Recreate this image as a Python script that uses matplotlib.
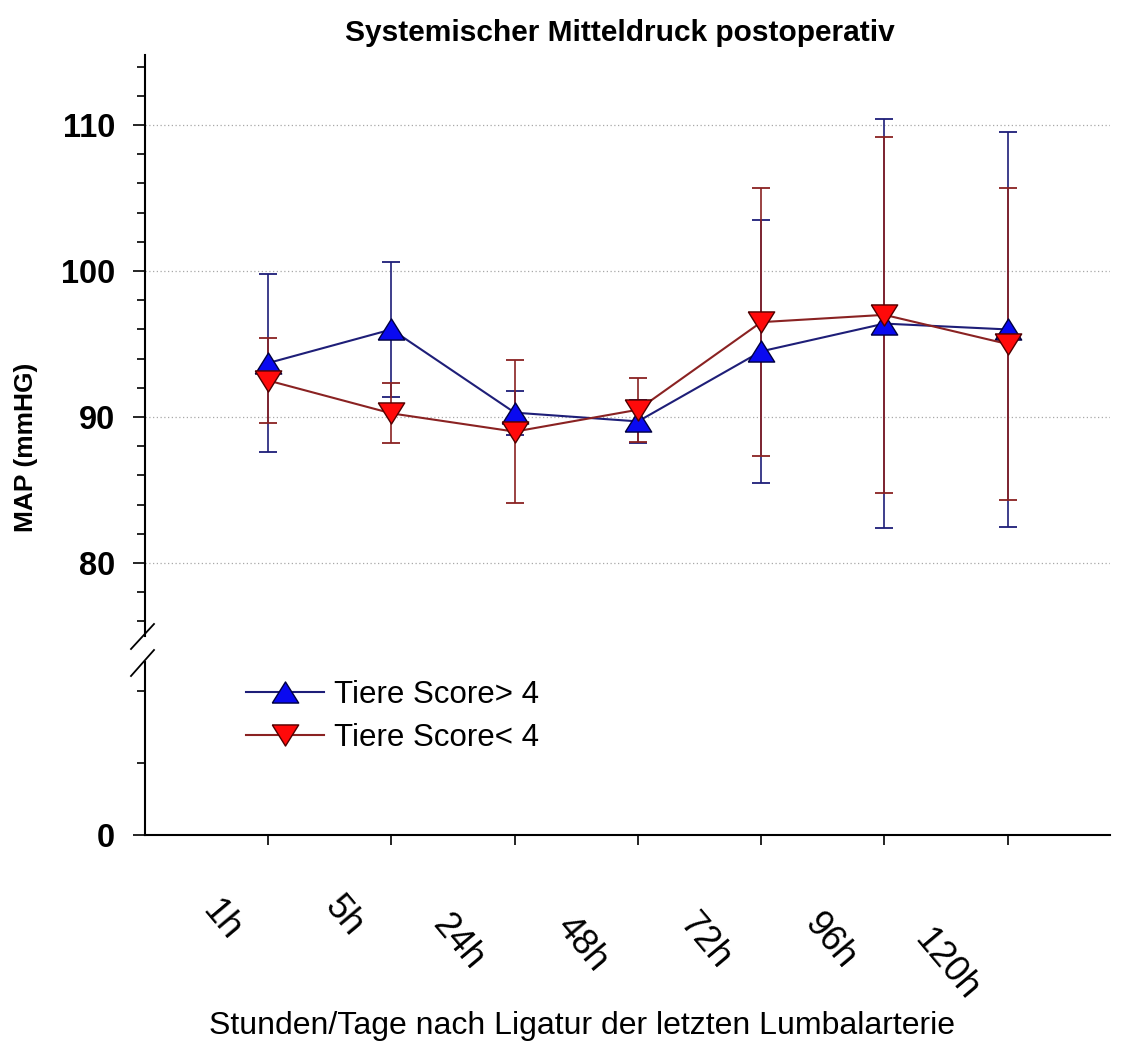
import numpy as np
import matplotlib
matplotlib.use('Agg')
import matplotlib.pyplot as plt
from matplotlib.lines import Line2D
from matplotlib.ticker import FixedLocator

# ---------------- data ----------------
categories = ['1h', '5h', '24h', '48h', '72h', '96h', '120h']
high_mean = [93.7, 96.0, 90.3, 89.7, 94.5, 96.4, 96.0]
high_sd = [6.1, 4.6, 1.5, 1.5, 9.0, 14.0, 13.5]
low_mean = [92.5, 90.25, 89.0, 90.5, 96.5, 97.0, 95.0]
low_sd = [2.9, 2.05, 4.9, 2.2, 9.2, 12.2, 10.7]
high_label = 'Tiere Score> 4'
low_label = 'Tiere Score< 4'
upper_major_ticks = [80, 90, 100, 110]
upper_minor_ticks = list(range(76, 115, 2))
lower_major_ticks = [0]
lower_minor_ticks = [10, 20]

# ---------------- style / layout ----------------
plt.rcParams['font.family'] = ['Liberation Sans', 'DejaVu Sans']
W, H = 1128, 1043
fig = plt.figure(figsize=(W / 100, H / 100), dpi=100)


def fx(px):
    return px / W


def fy(py):
    return 1 - py / H


L, R = 145, 1110
ax_top = fig.add_axes([fx(L), fy(636), (R - L) / W, (636 - 55) / H])
ax_bot = fig.add_axes([fx(L), fy(835), (R - L) / W, (835 - 662) / H])

x = np.arange(1, len(categories) + 1)

blue_line = '#1e1e78'
blue_fill = '#0a0af0'
blue_edge = '#000040'
red_line = '#8a2222'
red_fill = '#ff0a0a'
red_edge = '#500000'

tri_up = [(-1, -0.8), (1, -0.8), (0, 0.8), (-1, -0.8)]
tri_dn = [(-1, 0.8), (1, 0.8), (0, -0.8), (-1, 0.8)]

ax_top.errorbar(x, high_mean, yerr=high_sd, fmt='none', ecolor=blue_line,
                elinewidth=1.2, capsize=6.5, capthick=1.3, zorder=2)
ax_top.errorbar(x, low_mean, yerr=low_sd, fmt='none', ecolor=red_line,
                elinewidth=1.2, capsize=6.5, capthick=1.3, zorder=2)
h_line, = ax_top.plot(x, high_mean, color=blue_line, lw=1.5, marker=tri_up,
                      ms=19, mfc=blue_fill, mec=blue_edge, mew=1.0, zorder=3,
                      label=high_label)
l_line, = ax_top.plot(x, low_mean, color=red_line, lw=1.5, marker=tri_dn,
                      ms=19, mfc=red_fill, mec=red_edge, mew=1.0, zorder=4,
                      label=low_label)

for ax in (ax_top, ax_bot):
    ax.set_xlim(0, 7.83)
    ax.spines['top'].set_visible(False)
    ax.spines['right'].set_visible(False)
    ax.spines['left'].set_linewidth(1.5)
    ax.tick_params(axis='y', which='major', length=8.5, width=1.2,
                   labelsize=23, pad=13)
    ax.tick_params(axis='y', which='minor', length=5.5, width=1.2)
    ax.set_facecolor('none')

ax_top.spines['bottom'].set_visible(False)
ax_top.set_ylim(75, 114.8)
ax_top.yaxis.set_major_locator(FixedLocator(upper_major_ticks))
ax_top.yaxis.set_minor_locator(FixedLocator(upper_minor_ticks))
ax_top.set_yticklabels([str(v) for v in upper_major_ticks], fontweight='bold',
                       fontsize=23.5)
ax_top.tick_params(axis='x', which='both', bottom=False, labelbottom=False)
ax_top.yaxis.grid(True, which='major', linestyle=(0, (1, 2)), color='#a8a8a8',
                  lw=0.9)

ax_bot.set_ylim(0, 24)
ax_bot.yaxis.set_major_locator(FixedLocator(lower_major_ticks))
ax_bot.yaxis.set_minor_locator(FixedLocator(lower_minor_ticks))
ax_bot.set_yticklabels([str(v) for v in lower_major_ticks], fontweight='bold',
                       fontsize=23.5)
ax_bot.spines['bottom'].set_linewidth(1.5)
ax_bot.set_xticks(x)
ax_bot.tick_params(axis='x', which='major', length=7, width=1.2,
                   labelbottom=False)

# rotated category labels, placed below the axis
label_offsets = [(-47, -85), (-48, -81), (-57, -107), (-56, -109),
                 (-56, -106), (-55, -106), (-61, -130)]
for xi, lab, off in zip(x, categories, label_offsets):
    ax_bot.annotate(lab, xy=(xi, 0), xycoords=('data', 'axes fraction'),
                    xytext=off, textcoords='offset pixels', rotation=-50,
                    ha='center', va='center', fontsize=26)

# legend
ax_bot.legend(handles=[h_line, l_line], loc='upper left',
              bbox_to_anchor=(fx(246), fy(680)),
              bbox_transform=fig.transFigure, frameon=False, fontsize=22.5,
              handlelength=2.5, handletextpad=0.33, labelspacing=0.42,
              borderpad=0, borderaxespad=0, numpoints=1)

# axis break marks
for (x0, y0, x1, y1) in [(131, 649, 154, 624), (131, 676, 154, 650)]:
    fig.add_artist(Line2D([fx(x0), fx(x1)], [fy(y0), fy(y1)],
                          transform=fig.transFigure, color='black', lw=1.3))

# texts
fig.text(fx(620), fy(33), 'Systemischer Mitteldruck postoperativ',
         ha='center', va='center', fontsize=21.5, fontweight='bold')
fig.text(fx(582), fy(1026), 'Stunden/Tage nach Ligatur der letzten Lumbalarterie',
         ha='center', va='center', fontsize=23)
fig.text(fx(26), fy(447), 'MAP (mmHG)', ha='center', va='center',
         rotation=90, fontsize=19, fontweight='bold')

fig.savefig('out.png', dpi=100)
